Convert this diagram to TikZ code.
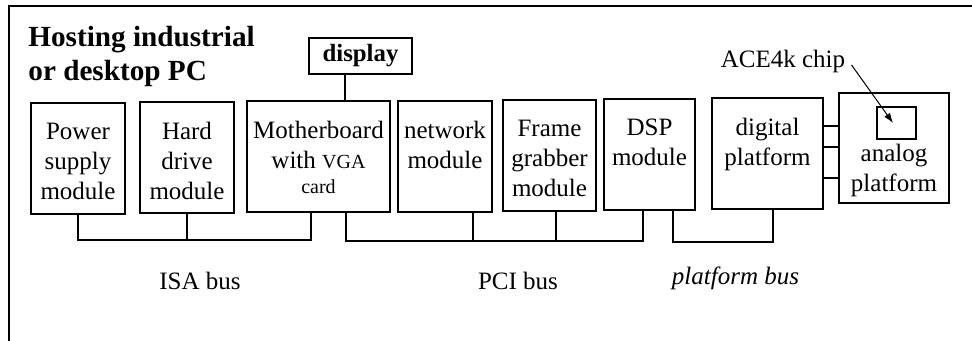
\documentclass[tikz,border=0pt]{standalone}
\usepackage{fontspec}
\setmainfont{Liberation Serif}
\usetikzlibrary{arrows.meta, positioning}
\newcommand\modfont{\fontsize{12.5}{15}\selectfont}
\newcommand\vgafont{\fontsize{10}{12}\selectfont}
\newcommand\hdfont{\fontsize{14.6}{17}\selectfont\bfseries}
\newcommand\dispfont{\fontsize{12.4}{14}\selectfont\bfseries}
\tikzset{
  unit/.style={draw,line width=0.6pt,inner sep=0pt,minimum height=55.5pt},
  utext/.style={inner sep=0pt,align=center,font=\modfont},
  toptext/.style={utext,anchor=north,yshift=-10pt},
  bus/.style={line width=0.6pt},
  line/.style={-{Latex[length=5pt,width=3.5pt]},line width=0.5pt}
}

\begin{document}
\begin{tikzpicture}[x=1pt,y=1pt]
\useasboundingbox (0,0) rectangle (486,-170.5);
\draw[line width=1pt] (4.5,-170.5) -- (4.5,-3.25) -- (486,-3.25);
\node[anchor=north west,align=left,inner sep=0pt,font=\hdfont] (title) at (14,-13) {Hosting industrial\\or desktop PC};

% PC modules
\node[unit,minimum width=47pt,label={[toptext]north:Power\\supply\\module}] (pwr) at (39,-79.25) {};
\node[unit,minimum width=47pt,label={[toptext]north:Hard\\drive\\module}] (hdd) at (93.5,-78.75) {};
\node[unit,minimum width=71.5pt,label={[toptext]north:Motherboard\\with {\vgafont VGA}\\[-2.5pt]{\vgafont card}}] (mb) at (159.25,-78.25) {};
\node[unit,minimum width=47pt,label={[toptext]north:network\\module}] (net) at (222.5,-78.25) {};
\node[unit,minimum width=46.5pt,label={[toptext]north:Frame\\grabber\\module}] (fg) at (274.75,-77.75) {};
\node[unit,minimum width=45.5pt,label={[toptext]north:DSP\\module}] (dsp) at (324.75,-77.25) {};

% platform
\node[unit,minimum width=55.5pt,label={[toptext]north:digital\\platform}] (dig) at (383.75,-76.75) {};
\node[unit,minimum width=55pt,minimum height=55pt,label={[utext,anchor=south,yshift=3pt]south:analog\\platform}] (ana) at (447,-74) {};
\node[draw,line width=0.6pt,inner sep=0pt,minimum width=19.5pt,minimum height=16pt,below=7pt of ana.north,xshift=1.25pt] (chip) {};
\node[inner sep=0pt,font=\modfont] (ace) at (391.5,-30.5) {ACE4k chip};
\draw[line] ([xshift=3pt,yshift=-2pt]ace.east) -- ([xshift=-1.75pt]chip.center);
\foreach \dy in {13.75,3.25,-12.25}
  \draw[bus] ([yshift=\dy]dig.east) -- ([yshift=\dy]dig.east -| ana.west);

% display
\node[draw,line width=0.8pt,inner sep=0pt,minimum width=51.5pt,minimum height=18pt,font=\dispfont] (disp) at (180.25,-28) {display};
\draw[bus] ([xshift=-7.75pt]disp.south) -- ([xshift=-7.75pt]disp.south |- mb.north);

% buses
\coordinate (isa) at (0,-120);
\coordinate (pci) at (0,-120.5);
\coordinate (pfb) at (0,-121);
\draw[bus] (pwr.south) -- (pwr.south |- isa) -| ([xshift=-3.75pt]mb.south);
\draw[bus] (hdd.south) -- (hdd.south |- isa);
\draw[bus] ([xshift=13.75pt]mb.south) -- ([xshift=13.75pt]mb.south |- pci) -| ([xshift=-3.25pt]dsp.south);
\draw[bus] ([xshift=14pt]net.south) -- ([xshift=14pt]net.south |- pci);
\draw[bus] ([xshift=3.25pt]fg.south) -- ([xshift=3.25pt]fg.south |- pci);
\draw[bus] ([xshift=11.75pt]dsp.south) -- ([xshift=11.75pt]dsp.south |- pfb) -| ([xshift=2.75pt]dig.south);

\node[font=\modfont] (isalbl) at (100,-140.5) {ISA bus};
\node[font=\modfont] (pcilbl) at (259,-140.5) {PCI bus};
\node[font=\modfont\itshape] (pfblbl) at (367.75,-139) {platform bus};
\end{tikzpicture}
\end{document}
